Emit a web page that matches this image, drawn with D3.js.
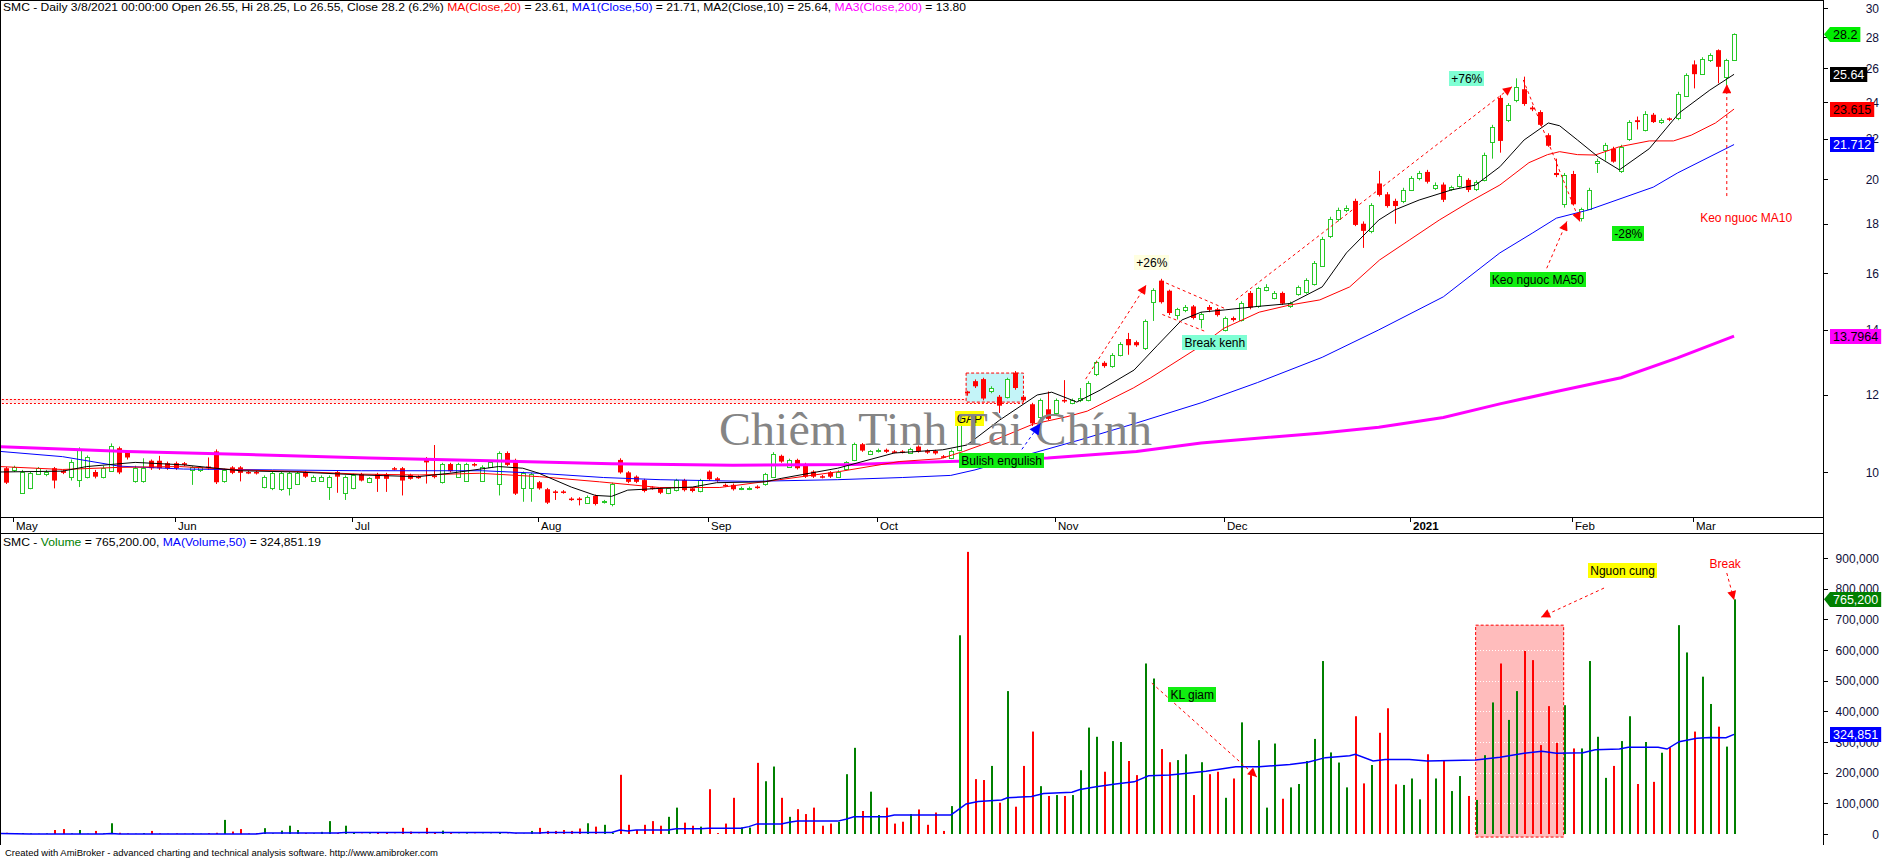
<!DOCTYPE html>
<html>
<head>
<meta charset="utf-8">
<script src="https://cdn.jsdelivr.net/npm/d3@7"></script>
<style>
  body { margin: 0; background: #fff; }
  svg { display: block; font-family: Arial, "Liberation Sans", sans-serif; }
  text { white-space: pre; }
</style>
</head>
<body>
<div id="chart"></div>
<script>
// ---- data (SMC daily) ----
// [open, high, low, close], one row per trading day, 29 Apr 2020 .. 8 Mar 2021
const ohlc = [
  [10.09,10.12,9.72,9.75],[10.04,10.15,10.0,10.11],[9.52,10.05,9.5,10.0],[9.62,10.0,9.6,9.98],[9.95,10.12,9.93,10.09],
  [9.95,10.05,9.9,10.0],[10.09,10.12,9.62,9.8],[10.03,10.05,9.95,9.98],[9.89,10.3,9.8,10.25],[9.81,10.6,9.65,10.55],
  [9.89,10.4,9.85,10.35],[10.0,10.05,9.85,9.89],[9.89,10.15,9.85,10.1],[10.03,10.7,10.0,10.64],[10.58,10.62,9.95,9.99],
  [10.48,10.5,10.3,10.35],[9.78,10.15,9.75,10.1],[9.78,10.33,9.75,10.1],[10.27,10.3,10.05,10.09],[10.27,10.39,10.05,10.09],
  [10.21,10.25,10.05,10.09],[10.21,10.25,10.05,10.09],[10.21,10.24,10.14,10.17],[10.05,10.14,9.7,10.11],[10.05,10.14,10.0,10.11],
  [10.13,10.35,10.05,10.1],[10.5,10.55,9.72,9.76],[9.78,10.08,9.75,10.05],[10.11,10.14,9.95,9.98],[10.11,10.14,9.78,9.98],
  [10.0,10.03,9.95,9.98],[10.0,10.03,9.94,9.97],[9.65,9.92,9.62,9.89],[9.62,10.0,9.58,9.98],[9.6,10.0,9.56,9.98],
  [9.62,10.0,9.46,9.98],[9.72,10.0,9.7,9.98],[10.0,10.03,9.86,9.89],[9.8,9.92,9.78,9.89],[9.8,9.92,9.78,9.89],
  [9.64,9.92,9.36,9.89],[10.0,10.03,9.52,9.89],[9.52,9.92,9.36,9.89],[9.62,9.96,9.6,9.93],[9.95,9.98,9.78,9.8],
  [9.76,9.88,9.74,9.85],[9.95,9.98,9.54,9.84],[9.95,9.98,9.54,9.84],[10.09,10.12,10.04,10.07],[10.09,10.12,9.46,9.8],
  [9.93,9.96,9.82,9.84],[9.89,9.92,9.84,9.86],[10.33,10.36,9.73,10.23],[9.92,10.66,9.85,9.88],[9.76,10.22,9.73,10.19],
  [10.19,10.22,9.99,10.02],[9.89,10.22,9.86,10.19],[9.8,10.22,9.77,10.19],[10.19,10.22,10.13,10.16],[9.8,10.16,9.77,10.13],
  [10.13,10.28,10.1,10.25],[9.72,10.5,9.46,10.46],[10.46,10.5,10.14,10.17],[10.29,10.32,9.47,9.5],[9.62,10.01,9.32,9.98],
  [9.62,9.98,9.32,9.95],[9.76,9.79,9.59,9.62],[9.6,9.63,9.27,9.3],[9.55,9.58,9.36,9.53],[9.55,9.58,9.5,9.53],
  [9.39,9.42,9.34,9.37],[9.39,9.42,9.24,9.37],[9.3,9.46,9.27,9.43],[9.45,9.48,9.24,9.27],[9.31,9.36,9.28,9.33],
  [9.27,9.75,9.22,9.71],[10.29,10.33,9.96,9.99],[9.99,10.02,9.74,9.77],[9.89,9.92,9.74,9.77],[9.81,9.84,9.53,9.56],
  [9.64,9.67,9.59,9.62],[9.62,9.65,9.49,9.52],[9.52,9.65,9.49,9.62],[9.58,9.84,9.55,9.81],[9.81,9.84,9.55,9.58],
  [9.62,9.65,9.53,9.56],[9.56,9.84,9.53,9.81],[10.01,10.04,9.8,9.83],[9.85,9.88,9.77,9.8],[9.7,9.73,9.65,9.68],
  [9.7,9.73,9.57,9.6],[9.61,9.66,9.58,9.63],[9.61,9.66,9.58,9.63],[9.66,9.69,9.61,9.64],[9.71,9.98,9.68,9.95],
  [9.89,10.48,9.86,10.44],[10.39,10.42,10.22,10.25],[10.13,10.32,10.1,10.29],[10.29,10.32,10.06,10.09],[10.19,10.22,9.86,9.89],
  [10.01,10.04,9.86,9.89],[9.9,9.93,9.85,9.88],[9.99,10.02,9.86,9.89],[9.89,10.04,9.86,10.01],[10.07,10.26,10.04,10.23],
  [10.29,10.72,10.26,10.68],[10.68,10.71,10.49,10.52],[10.44,10.53,10.41,10.5],[10.5,10.57,10.47,10.54],[10.54,10.57,10.46,10.49],
  [10.5,10.53,10.45,10.48],[10.5,10.53,10.45,10.48],[10.47,10.59,10.44,10.56],[10.62,10.65,10.47,10.5],[10.52,10.55,10.44,10.47],
  [10.51,10.54,10.42,10.45],[10.38,10.41,10.33,10.36],[10.34,10.55,10.31,10.52],[10.54,11.55,10.5,11.5],[12.1,12.12,11.98,12.05],
  [12.4,12.45,12.2,12.25],[12.46,12.5,11.85,11.9],[12.1,12.25,12.05,12.2],[11.95,12.0,11.5,11.7],[11.94,12.5,11.9,12.47],
  [12.65,12.7,12.15,12.2],[11.95,12.0,11.8,11.85],[11.74,11.78,11.15,11.22],[11.4,11.9,11.3,11.86],[11.6,12.1,11.3,11.34],
  [11.5,11.9,11.45,11.86],[11.86,12.43,11.78,11.82],[11.78,11.9,11.74,11.85],[11.85,12.2,11.8,11.92],[11.86,12.4,11.82,12.36],
  [12.6,13.02,12.55,12.98],[12.95,13.0,12.8,12.85],[12.85,13.25,12.8,13.2],[13.2,13.6,13.15,13.55],[13.7,13.9,13.2,13.5],
  [13.6,13.65,13.45,13.5],[13.4,14.35,13.35,14.3],[14.95,15.45,14.3,15.4],[15.73,15.8,14.9,14.95],[15.36,15.4,14.5,14.57],
  [14.5,14.75,14.35,14.7],[14.68,14.85,14.6,14.78],[14.8,14.85,14.35,14.4],[14.36,14.6,14.05,14.55],[14.78,14.85,14.6,14.68],
  [14.7,14.75,14.45,14.5],[14.0,14.45,13.95,14.4],[14.4,14.45,14.28,14.33],[14.33,14.98,14.28,14.92],[15.28,15.35,14.7,14.76],
  [14.8,15.5,14.75,15.45],[15.39,15.6,15.34,15.5],[15.1,15.35,15.05,15.28],[15.28,15.33,14.85,14.9],[14.82,14.97,14.75,14.92],
  [15.24,15.55,15.18,15.5],[15.3,15.82,15.25,15.76],[15.6,16.48,15.55,16.4],[16.3,17.45,16.25,17.35],[17.48,18.3,17.4,18.2],
  [18.2,18.7,18.1,18.6],[18.6,18.8,18.5,18.7],[19.0,19.1,17.9,17.95],[18.0,18.1,17.0,17.7],[17.7,18.9,17.6,18.82],
  [19.8,20.4,19.2,19.27],[19.3,19.4,18.7,18.77],[19.0,19.1,18.0,18.77],[19.0,19.6,18.9,19.5],[19.5,20.15,19.45,20.05],
  [20.05,20.4,19.95,20.3],[20.35,20.45,19.8,19.88],[19.6,19.85,19.5,19.75],[19.75,19.85,18.95,19.05],[19.55,19.7,19.45,19.65],
  [19.7,20.25,19.6,20.15],[19.97,20.05,19.4,19.5],[19.55,19.95,19.45,19.88],[19.97,21.3,19.9,21.2],[21.85,22.75,21.0,22.65],
  [24.25,24.4,21.3,21.9],[23.0,23.95,22.9,23.85],[24.1,25.4,24.0,24.9],[24.75,25.5,23.8,23.9],[23.7,23.8,23.5,23.6],
  [23.45,23.55,22.7,22.75],[22.2,22.3,21.6,21.65],[20.3,21.0,20.1,20.2],[18.85,20.3,18.7,20.2],[20.25,20.4,18.8,18.85],
  [18.25,18.7,18.1,18.65],[18.65,19.6,18.6,19.5],[20.8,21.0,20.3,20.9],[21.45,21.8,20.9,21.7],[21.5,21.6,20.8,20.85],
  [20.4,21.7,20.3,21.6],[22.0,23.0,21.9,22.9],[23.0,23.2,22.5,22.9],[22.45,23.5,22.4,23.35],[23.3,23.4,22.85,22.9],
  [22.9,23.1,22.8,23.0],[23.1,23.15,22.95,23.05],[23.1,24.6,23.0,24.5],[24.35,25.7,24.3,25.6],[26.25,26.5,24.8,25.65],
  [25.65,26.7,25.6,26.6],[26.5,26.95,26.4,26.85],[27.15,27.2,25.1,26.1],[25.5,26.6,25.0,26.5],[26.55,28.25,26.55,28.2]
];

// daily volume, same days
const volumes = [
  4000,2000,3000,2000,1000,2000,13000,16000,2000,13000,1000,10000,2000,35000,4000,2000,1000,3000,10000,2000,
  1000,2000,1000,2000,1000,3000,4000,46000,8000,16000,2000,3000,19000,2000,11000,27000,13000,3000,2000,7000,
  42000,3000,27000,5000,1000,2000,6000,6000,1000,20000,8000,1000,20000,6000,11000,3000,1000,2000,1000,1000,
  1000,3000,1000,2000,1000,10000,20000,10000,10000,13000,10000,18000,35000,24000,30000,3000,193000,30000,13000,30000,
  42000,27000,56000,86000,37000,27000,24000,146000,3000,34000,118000,21000,21000,232000,172000,220000,118000,56000,81000,65000,
  86000,27000,34000,40000,195000,281000,75000,138000,62000,86000,34000,40000,65000,80000,30000,70000,10000,91000,648000,920000,
  179000,176000,222000,102000,466000,89000,222000,334000,156000,124000,127000,124000,127000,208000,347000,317000,203000,303000,300000,238000,
  192000,556000,507000,277000,234000,241000,260000,127000,234000,195000,203000,118000,181000,364000,192000,306000,86000,295000,115000,152000,
  163000,238000,310000,564000,266000,233000,152000,384000,165000,225000,330000,410000,162000,160000,181000,113000,260000,181000,241000,140000,
  189000,124000,111000,257000,429000,556000,372000,466000,597000,567000,290000,417000,297000,420000,279000,279000,564000,317000,183000,222000,
  303000,384000,163000,300000,170000,265000,283000,681000,592000,334000,513000,424000,350000,285000,765200
];

// month labels and the bar index where each month starts
const monthLabels = ["May","Jun","Jul","Aug","Sep","Oct","Nov","Dec","2021","Feb","Mar"];
const monthStarts = [1,21,43,66,87,108,130,151,174,194,209];

// moving averages: [bar index, value]
const ma10Pts = [[-0.75,10.0],[7,10.02],[10,10.13],[16,10.23],[22,10.17],[29,10.03],[36,10.0],[44,9.93],[51,9.89],[55,9.97],
  [61,10.13],[64,10.09],[66,9.97],[70,9.65],[73,9.46],[75,9.44],[77,9.58],[81,9.62],[85,9.65],[88,9.75],[94,9.77],[96,9.85],
  [103,10.09],[110,10.46],[116,10.54],[119,10.66],[123,11.3],[127.7,12.0],[129.5,12.08],[131.5,11.9],[132.6,11.8],[135.5,12.14],
  [139.7,12.73],[142.6,13.5],[145.6,14.33],[148,14.6],[151,14.68],[155,14.8],[159,14.9],[163,15.5],[166,16.8],[170,18.16],
  [172,18.6],[175,19.04],[179,19.5],[182,19.73],[185,20.6],[188,21.95],[191,22.85],[192.4,22.7],[194.6,21.95],[197.2,21.08],
  [199.8,20.45],[203.5,21.5],[207.2,23.4],[211,24.7],[214,25.64]];
const ma20Pts = [[-0.75,10.13],[7,10.06],[14,10.11],[21.5,10.13],[29,10.05],[36.4,10.01],[43.8,9.95],[51.2,9.93],[58.6,9.97],
  [66.1,9.89],[73.5,9.77],[80.9,9.64],[88.4,9.64],[95.8,9.82],[103.2,10.01],[110.6,10.25],[115.7,10.32],[118.6,10.5],[122,10.75],
  [127.2,11.2],[131.4,11.4],[133.9,11.55],[139.6,12.2],[141.7,12.49],[147.8,13.45],[150.8,14.05],[155.2,14.6],[159,14.85],
  [162.7,15.03],[166.4,15.5],[170.1,16.52],[173.8,17.32],[177.5,18.16],[181.2,18.95],[185,19.73],[188.6,20.8],[190.9,21.2],
  [192.4,21.35],[194.6,21.2],[196.8,21.18],[199.8,21.6],[203.5,21.9],[206.5,21.9],[208.7,22.2],[211.7,22.85],[214,23.615]];
const ma50Pts = [[-0.75,10.5],[7,10.37],[14,10.14],[22,10.07],[33,10.05],[44,10.03],[59,10.03],[66,9.97],[74,9.87],[81,9.82],
  [92,9.78],[103,9.82],[111,9.87],[117,9.92],[120,10.05],[126,10.39],[133,10.79],[140,11.23],[148,11.78],[155,12.36],[163,13.12],
  [170,14.0],[178,15.14],[185,16.8],[189,17.6],[192,18.24],[196,18.6],[204,19.63],[207,20.3],[214,21.712]];
const ma200Pts = [[-0.75,10.62],[15,10.5],[30,10.42],[45,10.34],[60,10.27],[75,10.2],[90,10.16],[105,10.18],[111,10.22],
  [118,10.26],[129,10.34],[140,10.5],[148,10.71],[163,10.97],[170,11.12],[178,11.38],[185,11.75],[192,12.1],[200,12.5],
  [207,13.1],[214,13.7964]];
const volMaPts = [[-0.75,2000],[3,0],[12,0],[13,2000],[14,0],[31,0],[32,3000],[41,3000],[42,5000],[62,5000],[63,3000],[66,3000],
  [67,5000],[75,5000],[76,13000],[77,10000],[78,13000],[82,13000],[83,17000],[86,17000],[87,19000],[91,19000],[92,24000],
  [93,33000],[96,33000],[97,38000],[98,42000],[103,42000],[104,48000],[105,56000],[109,56000],[110,62000],[117,62000],
  [117.6,73000],[118.9,98000],[120.4,106000],[123.3,111000],[124,118000],[127,122000],[128.5,132000],[132,136000],[133,145000],
  [135,154000],[137.4,163000],[139.7,170000],[141.5,190000],[144.1,192000],[146.3,198000],[148.6,205000],[152.3,219000],
  [155.2,219000],[159,227000],[161.2,234000],[163.4,249000],[166.4,255000],[167.1,260000],[169.3,238000],[170.8,243000],
  [173.8,243000],[176,238000],[182,241000],[185,250000],[188,263000],[190.2,270000],[192,263000],[195.3,265000],[196.8,275000],
  [199.8,277000],[200.9,283000],[204.6,283000],[205.7,277000],[207.2,301000],[209.4,312000],[211,315000],[213,314000],[214,324851]];

const priceTicks = [10,12,14,16,18,20,22,24,26,28,30];
const volTicks = [0,100000,200000,300000,400000,500000,600000,700000,800000,900000];
const priceTagValues = [28.2, 25.64, 23.615, 21.712, 13.7964];
const volTagValues = [765200, 324851];

// annotations in data coordinates [bar index, price] / [bar index, volume]
const noteTexts = ["GAP","Bulish engulish","+26%","Break kenh","+76%","-28%","Keo nguoc MA50","Keo nguoc MA10"];
const noteAnchors = [[119.3,11.34],[123.3,10.27],[141.9,16.44],[149.7,13.6],[180.9,25.4],[200.9,17.6],[189.7,15.76],[215.5,18.25]];
const priceArrows = [[[133.7,12.46],[141.2,15.57]],[[152.3,15.03],[186.5,24.9]],[[187.9,25.3],[194.9,18.1]],
  [[190.8,16.2],[193.3,18.1]],[[213.1,19.22],[213.1,25.05]]];
const channelLines = [[[143,15.73],[151,14.72]],[[143.2,14.52],[148.5,13.95]]];
const gapBox = [[118.9,12.64],[126,11.8]];
const resistBand = [[-1,11.89],[126,11.78]];
const blueArrow = [[125.8,10.55],[128.1,11.22]];
const volNoteTexts = ["KL giam","Nguon cung","Break"];
const volNoteAnchors = [[146.9,455000],[200.2,859000],[212.9,882000]];
const volArrows = [[[141.9,492000],[154.9,186000]],[[197.9,802000],[190.1,707000]],[[213.1,851000],[214,763000]]];
const supplyBox = [[182,681000],[192.9,-10000]];

// ---- layout ----
const width = 1884, height = 859;
const axisX = 1823, priceBottom = 517, volTop = 533, volBottom = 845;
const GREEN = "#28c828", RED = "#ff0000", VGREEN = "#008000", BLUE = "#0000ff", MAG = "#ff00ff";

const x = d3.scaleLinear().domain([0, 214]).range([6, 6 + 214 * 8.075]);
const yP = d3.scaleLog().domain([10, 30]).range([472, 8]);
const yV = d3.scaleLinear().domain([0, 900000]).range([834, 558]);

const svg = d3.select("#chart").append("svg")
    .attr("width", width)
    .attr("height", height)
    .attr("viewBox", [0, 0, width, height]);

const defs = svg.append("defs");
defs.append("clipPath").attr("id", "clipP").append("rect")
    .attr("x", 1).attr("y", 1).attr("width", axisX - 1).attr("height", priceBottom - 1);
defs.append("clipPath").attr("id", "clipV").append("rect")
    .attr("x", 1).attr("y", volTop + 1).attr("width", axisX - 1).attr("height", volBottom - volTop - 1);

function marker(id, color, w, h) {
    defs.append("marker").attr("id", id)
        .attr("viewBox", "0 0 10 10").attr("refX", 10).attr("refY", 5)
        .attr("markerWidth", w).attr("markerHeight", h)
        .attr("markerUnits", "userSpaceOnUse").attr("orient", "auto")
        .append("path").attr("d", "M0,0L10,5L0,10z").attr("fill", color);
}
marker("arrRed", RED, 12, 9);
marker("arrBlue", BLUE, 13, 11);

const bars = ohlc.map((d, i) => ({i, o: d[0], h: d[1], l: d[2], c: d[3], v: volumes[i]}));
const isUp = d => d.c >= d.o;

// ---- price panel ----
const gP = svg.append("g").attr("clip-path", "url(#clipP)");

// resistance band + gap box (behind candles)
gP.append("rect")
    .attr("x", x(resistBand[0][0])).attr("y", yP(resistBand[0][1]))
    .attr("width", x(resistBand[1][0]) - x(resistBand[0][0]))
    .attr("height", yP(resistBand[1][1]) - yP(resistBand[0][1]))
    .attr("fill", "#ffe4e4");
resistBand.forEach(r => {
    gP.append("line")
        .attr("x1", x(resistBand[0][0])).attr("x2", x(resistBand[1][0]))
        .attr("y1", Math.round(yP(r[1])) + 0.5).attr("y2", Math.round(yP(r[1])) + 0.5)
        .attr("stroke", RED).attr("stroke-dasharray", "2,2");
});
gP.append("rect")
    .attr("x", x(gapBox[0][0])).attr("y", yP(gapBox[0][1]))
    .attr("width", x(gapBox[1][0]) - x(gapBox[0][0]))
    .attr("height", yP(gapBox[1][1]) - yP(gapBox[0][1]))
    .attr("fill", "#c4f4f8").attr("stroke", RED).attr("stroke-dasharray", "3,2");

// candles: wick first, then body (hollow body is white inside)
gP.append("g").selectAll("rect")
    .data(bars)
    .join("rect")
    .attr("x", d => Math.round(x(d.i)))
    .attr("y", d => yP(d.h))
    .attr("width", 1)
    .attr("height", d => Math.max(1, yP(d.l) - yP(d.h)))
    .attr("fill", d => isUp(d) ? GREEN : RED);

gP.append("g").selectAll("rect")
    .data(bars)
    .join("rect")
    .attr("x", d => isUp(d) ? Math.round(x(d.i)) - 1.5 : Math.round(x(d.i)) - 2)
    .attr("y", d => isUp(d) ? Math.round(yP(d.c)) + 0.5 : yP(d.o))
    .attr("width", d => isUp(d) ? 4 : 5)
    .attr("height", d => isUp(d)
        ? Math.max(1, Math.round(yP(d.o)) - Math.round(yP(d.c)))
        : Math.max(1.5, yP(d.c) - yP(d.o)))
    .attr("fill", d => isUp(d) ? "#fff" : RED)
    .attr("stroke", d => isUp(d) ? GREEN : "none");

// moving averages
const lineP = d3.line().x(d => x(d[0])).y(d => yP(d[1]));
[[ma200Pts, MAG, 3], [ma50Pts, BLUE, 1], [ma20Pts, RED, 1], [ma10Pts, "#000", 1]].forEach(([pts, col, w]) => {
    gP.append("path").datum(pts).attr("d", lineP)
        .attr("fill", "none").attr("stroke", col).attr("stroke-width", w);
});

// dashed arrows and channel
priceArrows.forEach(a => {
    gP.append("line")
        .attr("x1", x(a[0][0])).attr("y1", yP(a[0][1]))
        .attr("x2", x(a[1][0])).attr("y2", yP(a[1][1]))
        .attr("stroke", RED).attr("stroke-dasharray", "3,3")
        .attr("marker-end", "url(#arrRed)");
});
channelLines.forEach(a => {
    gP.append("line")
        .attr("x1", x(a[0][0])).attr("y1", yP(a[0][1]))
        .attr("x2", x(a[1][0])).attr("y2", yP(a[1][1]))
        .attr("stroke", RED).attr("stroke-dasharray", "3,3");
});

// labels
const noteBg = ["#ffff00", "#11ee11", "#ffffe0", "#7fffd4", "#7fffd4", "#11ee11", "#11ee11", null];
const noteFg = ["#000", "#000", "#000", "#000", "#000", "#000", "#000", RED];
function note(g, text, cx, cy, bg, fg) {
    const t = g.append("text")
        .attr("x", cx).attr("y", cy + 4.5)
        .attr("text-anchor", "middle")
        .attr("font-size", 12)
        .attr("fill", fg)
        .text(text);
    if (bg) {
        const w = t.node().getComputedTextLength();
        g.insert("rect", () => t.node())
            .attr("x", Math.round(cx - w / 2 - 2)).attr("y", Math.round(cy - 7.5))
            .attr("width", Math.round(w + 4)).attr("height", 15)
            .attr("fill", bg);
    }
}
noteTexts.forEach((t, k) => note(gP, t, x(noteAnchors[k][0]), yP(noteAnchors[k][1]), noteBg[k], noteFg[k]));

// watermark
gP.append("text")
    .attr("x", 719).attr("y", 445)
    .attr("font-family", "'Liberation Serif', 'DejaVu Serif', serif")
    .attr("font-size", 47)
    .attr("fill", "#858585")
    .attr("textLength", 433).attr("lengthAdjust", "spacingAndGlyphs")
    .text("Chiêm Tinh Tài Chính");

// blue arrow
gP.append("line")
    .attr("x1", x(blueArrow[0][0])).attr("y1", yP(blueArrow[0][1]))
    .attr("x2", x(blueArrow[1][0])).attr("y2", yP(blueArrow[1][1]))
    .attr("stroke", BLUE).attr("stroke-dasharray", "3,3")
    .attr("marker-end", "url(#arrBlue)");

// ---- volume panel ----
const gV = svg.append("g").attr("clip-path", "url(#clipV)");
gV.append("rect")
    .attr("x", x(supplyBox[0][0])).attr("y", yV(supplyBox[0][1]))
    .attr("width", x(supplyBox[1][0]) - x(supplyBox[0][0]))
    .attr("height", yV(supplyBox[1][1]) - yV(supplyBox[0][1]))
    .attr("fill", "#ffbcbc").attr("stroke", RED).attr("stroke-dasharray", "3,2");
gV.append("g").selectAll("line")
    .data(volTicks.slice(1))
    .join("line")
    .attr("x1", 1).attr("x2", axisX)
    .attr("y1", d => Math.round(yV(d)) + 0.5).attr("y2", d => Math.round(yV(d)) + 0.5)
    .attr("stroke", "#fff").attr("stroke-dasharray", "1,2");

gV.append("g").selectAll("rect")
    .data(bars)
    .join("rect")
    .attr("x", d => Math.round(x(d.i)))
    .attr("y", d => yV(d.v))
    .attr("width", 2)
    .attr("height", d => yV(0) - yV(d.v))
    .attr("fill", d => isUp(d) ? VGREEN : RED);

gV.append("path").datum(volMaPts)
    .attr("d", d3.line().x(d => x(d[0])).y(d => yV(d[1])))
    .attr("fill", "none").attr("stroke", BLUE).attr("stroke-width", 1.5);

volArrows.forEach(a => {
    gV.append("line")
        .attr("x1", x(a[0][0])).attr("y1", yV(a[0][1]))
        .attr("x2", x(a[1][0])).attr("y2", yV(a[1][1]))
        .attr("stroke", RED).attr("stroke-dasharray", "3,3")
        .attr("marker-end", "url(#arrRed)");
});
const volBg = ["#11ee11", "#ffff00", null];
const volFg = ["#000", "#000", RED];
volNoteTexts.forEach((t, k) => note(gV, t, x(volNoteAnchors[k][0]), yV(volNoteAnchors[k][1]), volBg[k], volFg[k]));

// ---- frames and axes ----
const frame = svg.append("g").attr("stroke", "#000").attr("shape-rendering", "crispEdges");
frame.append("line").attr("x1", 0).attr("x2", axisX).attr("y1", 0.5).attr("y2", 0.5);
frame.append("line").attr("x1", 0.5).attr("x2", 0.5).attr("y1", 0).attr("y2", volBottom);
frame.append("line").attr("x1", axisX + 0.5).attr("x2", axisX + 0.5).attr("y1", 0).attr("y2", volBottom);
frame.append("line").attr("x1", 0).attr("x2", axisX).attr("y1", priceBottom + 0.5).attr("y2", priceBottom + 0.5);
frame.append("line").attr("x1", 0).attr("x2", axisX).attr("y1", volTop + 0.5).attr("y2", volTop + 0.5);

// date axis
const gD = svg.append("g");
gD.selectAll("line")
    .data(monthStarts)
    .join("line")
    .attr("x1", d => Math.round(x(d)) - 0.5).attr("x2", d => Math.round(x(d)) - 0.5)
    .attr("y1", priceBottom).attr("y2", priceBottom + 5)
    .attr("stroke", "#000").attr("shape-rendering", "crispEdges");
gD.selectAll("text")
    .data(monthStarts)
    .join("text")
    .attr("x", d => Math.round(x(d)) + 2)
    .attr("y", 529.5)
    .attr("font-size", 11.5)
    .attr("font-weight", (d, k) => monthLabels[k] === "2021" ? "bold" : "normal")
    .text((d, k) => monthLabels[k]);

// right price axis
const gA = svg.append("g").attr("font-size", 12).attr("fill", "#10103a");
gA.selectAll("line.p")
    .data(priceTicks)
    .join("line")
    .attr("x1", axisX).attr("x2", axisX + 5)
    .attr("y1", d => Math.round(yP(d)) + 0.5).attr("y2", d => Math.round(yP(d)) + 0.5)
    .attr("stroke", "#000");
gA.selectAll("text.p")
    .data(priceTicks)
    .join("text")
    .attr("x", 1879).attr("y", d => yP(d) + 4.5)
    .attr("text-anchor", "end")
    .text(d => d);

const gAV = svg.append("g").attr("font-size", 12).attr("fill", "#10103a");
gAV.selectAll("line")
    .data(volTicks)
    .join("line")
    .attr("x1", axisX).attr("x2", axisX + 5)
    .attr("y1", d => Math.round(yV(d)) + 0.5).attr("y2", d => Math.round(yV(d)) + 0.5)
    .attr("stroke", "#000");
gAV.selectAll("text")
    .data(volTicks)
    .join("text")
    .attr("x", 1879).attr("y", d => yV(d) + 4.5)
    .attr("text-anchor", "end")
    .text(d => d3.format(",")(d));

// value tags on the axis
function tag(text, y, bg, fg, pointer) {
    const g = svg.append("g");
    const t = g.append("text").attr("x", axisX + 10).attr("y", y + 4.5)
        .attr("font-size", 12.5).attr("fill", fg).text(text);
    const w = t.node().getComputedTextLength();
    const x0 = axisX + 7, x1 = axisX + 10 + w + 3, top = Math.round(y - 7.5), bot = top + 15;
    const shape = pointer
        ? `M${axisX + 1},${y}L${x0},${top}L${x1},${top}L${x1},${bot}L${x0},${bot}Z`
        : `M${x0},${top}L${x1},${top}L${x1},${bot}L${x0},${bot}Z`;
    g.insert("path", () => t.node()).attr("d", shape).attr("fill", bg);
}
const priceTagStyle = [["#00ee00", "#000", true], ["#000", "#fff", false], ["#ff0000", "#000", false],
    [BLUE, "#fff", false], [MAG, "#000", false]];
priceTagValues.forEach((v, k) => tag(String(v), yP(v), ...priceTagStyle[k]));
const volTagStyle = [[VGREEN, "#fff", true], [BLUE, "#fff", false]];
volTagValues.forEach((v, k) => tag(d3.format(",")(v), yV(v), ...volTagStyle[k]));

// ---- titles ----
const hdr = svg.append("text").attr("x", 3).attr("y", 10.5).attr("font-size", 11)
    .attr("textLength", 963).attr("lengthAdjust", "spacingAndGlyphs");
[["SMC - Daily 3/8/2021 00:00:00 Open 26.55, Hi 28.25, Lo 26.55, Close 28.2 (6.2%) ", "#000"],
 ["MA(Close,20)", RED], [" = 23.61, ", "#000"], ["MA1(Close,50)", BLUE],
 [" = 21.71, MA2(Close,10) = 25.64, ", "#000"], ["MA3(Close,200)", MAG], [" = 13.80", "#000"]]
    .forEach(([s, c]) => hdr.append("tspan").attr("fill", c).text(s));

const vhdr = svg.append("text").attr("x", 3).attr("y", 546).attr("font-size", 11)
    .attr("textLength", 318).attr("lengthAdjust", "spacingAndGlyphs");
[["SMC - ", "#000"], ["Volume", VGREEN], [" = 765,200.00, ", "#000"], ["MA(Volume,50)", BLUE], [" = 324,851.19", "#000"]]
    .forEach(([s, c]) => vhdr.append("tspan").attr("fill", c).text(s));

svg.append("text").attr("x", 5).attr("y", 856).attr("font-size", 9)
    .attr("textLength", 433).attr("lengthAdjust", "spacingAndGlyphs")
    .text("Created with AmiBroker - advanced charting and technical analysis software. http://www.amibroker.com");
</script>
</body>
</html>
